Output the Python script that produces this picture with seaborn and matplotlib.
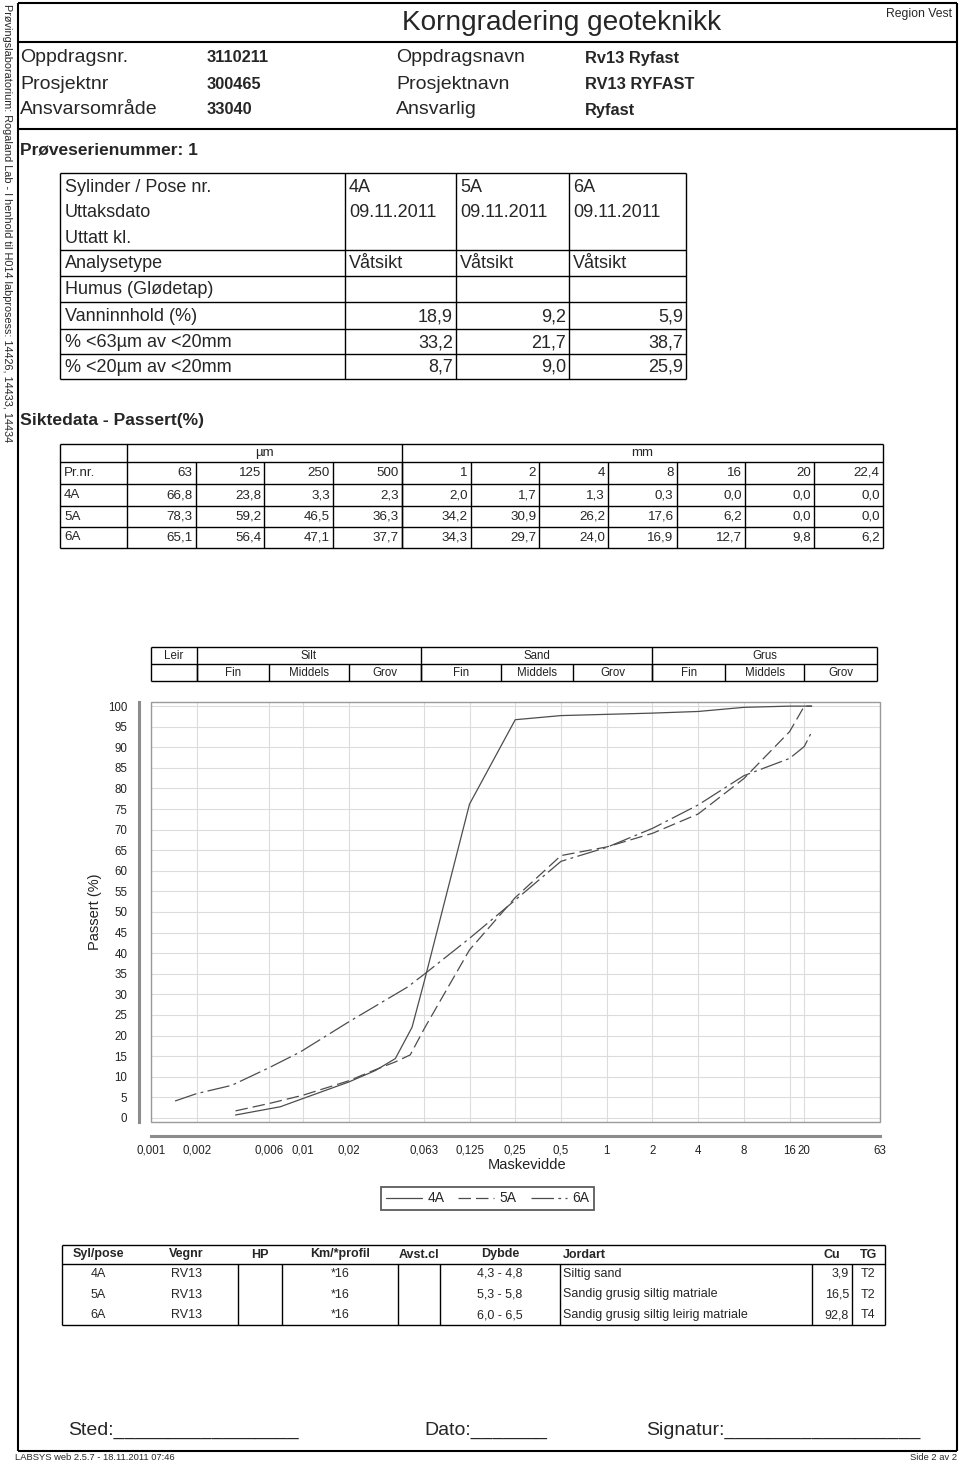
import numpy as np
import pandas as pd
import matplotlib
matplotlib.use("Agg")
import matplotlib.pyplot as plt
import seaborn as sns
from matplotlib.lines import Line2D
from matplotlib.patches import Rectangle
from matplotlib import font_manager

# ---------------- data ----------------
samples = ["4A", "5A", "6A"]
sieve_mm = [0.063, 0.125, 0.25, 0.5, 1, 2, 4, 8, 16, 20, 22.4]
sieve_labels = ["63", "125", "250", "500", "1", "2", "4", "8", "16", "20", "22,4"]
ret_4A = [66.8, 23.8, 3.3, 2.3, 2.0, 1.7, 1.3, 0.3, 0.0, 0.0, 0.0]
ret_5A = [78.3, 59.2, 46.5, 36.3, 34.2, 30.9, 26.2, 17.6, 6.2, 0.0, 0.0]
ret_6A = [65.1, 56.4, 47.1, 37.7, 34.3, 29.7, 24.0, 16.9, 12.7, 9.8, 6.2]
ret_labels_4A = ["66,8", "23,8", "3,3", "2,3", "2,0", "1,7", "1,3", "0,3", "0,0", "0,0", "0,0"]
ret_labels_5A = ["78,3", "59,2", "46,5", "36,3", "34,2", "30,9", "26,2", "17,6", "6,2", "0,0", "0,0"]
ret_labels_6A = ["65,1", "56,4", "47,1", "37,7", "34,3", "29,7", "24,0", "16,9", "12,7", "9,8", "6,2"]

# hydrometer (sedimentation) part of the curves
hyd_d_4A = [0.0036, 0.0071, 0.01, 0.02, 0.03, 0.0406, 0.0523]
hyd_p_4A = [0.7, 2.7, 4.7, 8.7, 11.5, 14.4, 22.0]
hyd_d_5A = [0.0036, 0.006, 0.01, 0.02, 0.03, 0.0406, 0.0509]
hyd_p_5A = [1.7, 3.5, 5.5, 9.0, 11.7, 13.6, 15.3]
hyd_d_6A = [0.00144, 0.002, 0.0034, 0.006, 0.0096, 0.02, 0.0485]
hyd_p_6A = [4.1, 5.9, 7.9, 12.2, 16.0, 23.3, 31.7]

x_ticks = [0.001, 0.002, 0.006, 0.01, 0.02, 0.063, 0.125, 0.25, 0.5, 1, 2, 4, 8, 16, 20, 63]
x_tick_labels = ["0,001", "0,002", "0,006", "0,01", "0,02", "0,063", "0,125", "0,25",
                 "0,5", "1", "2", "4", "8", "16", "20", "63"]
y_ticks = list(range(0, 101, 5))

band_bounds = [0.001, 0.002, 0.006, 0.02, 0.06, 0.2, 0.6, 2, 6, 20, 60]
band_main = [("Leir", 0, 1), ("Silt", 1, 4), ("Sand", 4, 7), ("Grus", 7, 10)]
band_sub = ["Fin", "Middels", "Grov"] * 3

header_rows = [("Oppdragsnr.", "3110211", "Oppdragsnavn", "Rv13 Ryfast"),
               ("Prosjektnr", "300465", "Prosjektnavn", "RV13 RYFAST"),
               ("Ansvarsområde", "33040", "Ansvarlig", "Ryfast")]

top_row_labels = ["Sylinder / Pose nr.", "Uttaksdato", "Uttatt kl.", "Analysetype",
                  "Humus (Glødetap)", "Vanninnhold (%)", "% <63µm av <20mm", "% <20µm av <20mm"]
top_col_4A = ["4A", "09.11.2011", "", "Våtsikt", "", "18,9", "33,2", "8,7"]
top_col_5A = ["5A", "09.11.2011", "", "Våtsikt", "", "9,2", "21,7", "9,0"]
top_col_6A = ["6A", "09.11.2011", "", "Våtsikt", "", "5,9", "38,7", "25,9"]

bottom_headers = ["Syl/pose", "Vegnr", "HP", "Km/*profil", "Avst.cl", "Dybde", "Jordart", "Cu", "TG"]
bottom_4A = ["4A", "RV13", "", "*16", "", "4,3 - 4,8", "Siltig sand", "3,9", "T2"]
bottom_5A = ["5A", "RV13", "", "*16", "", "5,3 - 5,8", "Sandig grusig siltig matriale", "16,5", "T2"]
bottom_6A = ["6A", "RV13", "", "*16", "", "6,0 - 6,5", "Sandig grusig siltig leirig matriale", "92,8", "T4"]

# ---------------- fonts ----------------
sns.set_style("white")
names = {f.name for f in font_manager.fontManager.ttflist}
REG = ["Liberation Sans", "DejaVu Sans"]
if "Liberation Sans Narrow" in names:
    NAR = ["Liberation Sans Narrow", "Liberation Sans", "DejaVu Sans"]
    NS = 1.0
else:
    NAR = REG
    NS = 0.84
plt.rcParams["font.family"] = REG

W, H = 960, 1463
fig = plt.figure(figsize=(W / 100, H / 100), dpi=100)
fig.patch.set_facecolor("white")


def fx(x):
    return x / W


def fy(y):
    return 1 - y / H


def line(x0, y0, x1, y1, lw=1.0, color="black"):
    fig.add_artist(Line2D([fx(x0), fx(x1)], [fy(y0), fy(y1)], lw=lw, color=color,
                          transform=fig.transFigure, solid_capstyle="butt"))


def text(x, y, s, size=10, ha="left", va="center", family=None, weight="normal", **kw):
    fig.text(fx(x), fy(y), s, fontsize=size, ha=ha, va=va,
             family=family if family is not None else REG, weight=weight, **kw)


# ---------------- page frame ----------------
line(18, 3, 957, 3, 1.5)
line(18, 3, 18, 1451, 1.5)
line(957, 3, 957, 1451, 1.5)
line(18, 1451, 957, 1451, 1.5)
line(18, 42, 957, 42, 1.5)
line(18, 129, 957, 129, 1.5)
text(7, 223, "Prøvingslaboratorium: Rogaland Lab - I henhold til H014 labprosess: 14426, 14433, 14434",
     size=7.8, ha="center", rotation=-90)

text(562, 23, "Korngradering geoteknikk", size=24 * NS, ha="center", family=NAR)
text(952, 14, "Region Vest", size=10.5 * NS, ha="right", family=NAR)

for i, (a, b, c, d) in enumerate(header_rows):
    y = [58, 84.5, 110][i]
    text(20, y, a, size=14)
    text(207, y, b, size=14 * NS, family=NAR, weight="bold")
    text(396, y, c, size=14)
    text(585, y, d, size=14 * NS, family=NAR, weight="bold")

text(20, 150, "Prøveserienummer: 1", size=12.5, family=NAR, weight="bold")

# ---------------- top table ----------------
tb = [173, 199, 224.5, 250, 276, 302, 329, 354, 379]
tx = [60, 345, 456, 569, 686]
line(tx[0], tb[0], tx[-1], tb[0])
line(tx[0], tb[-1], tx[-1], tb[-1])
for yy in tb[3:-1]:
    line(tx[0], yy, tx[-1], yy)
for xx in tx:
    line(xx, tb[0], xx, tb[-1])
cols = [top_col_4A, top_col_5A, top_col_6A]
for r, lab in enumerate(top_row_labels):
    yc = (tb[r] + tb[r + 1]) / 2 + 1
    text(tx[0] + 5, yc, lab, size=13)
    for c, col in enumerate(cols):
        v = col[r]
        if r >= 5:
            text(tx[c + 2] - 3, yc, v, size=13, ha="right")
        else:
            text(tx[c + 1] + 4, yc, v, size=13)

# ---------------- sieve table ----------------
text(20, 420, "Siktedata - Passert(%)", size=12.6, family=NAR, weight="bold")
sy = [444, 462, 484, 506, 527, 548]
sx = [60, 127] + [127 + 68.7 * (i + 1) for i in range(11)]
line(sx[0], sy[0], sx[-1], sy[0])
line(sx[0], sy[-1], sx[-1], sy[-1])
for yy in sy[1:-1]:
    line(sx[0], yy, sx[-1], yy)
line(sx[0], sy[0], sx[0], sy[-1])
line(sx[1], sy[0], sx[1], sy[-1])
line(sx[5], sy[0], sx[5], sy[-1])
line(sx[-1], sy[0], sx[-1], sy[-1])
for xx in sx[2:-1]:
    line(xx, sy[1], xx, sy[-1])
tsz = 9.6
text((sx[1] + sx[5]) / 2, (sy[0] + sy[1]) / 2, "µm", size=tsz, ha="center", family=NAR)
text((sx[5] + sx[-1]) / 2, (sy[0] + sy[1]) / 2, "mm", size=tsz, ha="center", family=NAR)
text(sx[0] + 4, (sy[1] + sy[2]) / 2, "Pr.nr.", size=tsz, family=NAR)
for j, lab in enumerate(sieve_labels):
    text(sx[j + 2] - 3, (sy[1] + sy[2]) / 2, lab, size=tsz, ha="right", family=NAR)
for i, (name, labs) in enumerate(zip(samples, [ret_labels_4A, ret_labels_5A, ret_labels_6A])):
    yc = (sy[i + 2] + sy[i + 3]) / 2
    text(sx[0] + 4, yc, name, size=tsz, family=NAR)
    for j, lab in enumerate(labs):
        text(sx[j + 2] - 3, yc, lab, size=tsz, ha="right", family=NAR)

# ---------------- chart ----------------
ax_l, ax_r, ax_t, ax_b = 151, 880, 702, 1122
ax = fig.add_axes([fx(ax_l), fy(ax_b), (ax_r - ax_l) / W, (ax_b - ax_t) / H])

recs = []
for s, hd, hp, ret in [("4A", hyd_d_4A, hyd_p_4A, ret_4A),
                       ("5A", hyd_d_5A, hyd_p_5A, ret_5A),
                       ("6A", hyd_d_6A, hyd_p_6A, ret_6A)]:
    for d, p in zip(hd, hp):
        recs.append({"sample": s, "d": d, "p": p})
    for d, r in zip(sieve_mm, ret):
        recs.append({"sample": s, "d": d, "p": 100 - r})
df = pd.DataFrame(recs)

line_color = "#4d4d4d"
dash_5A = (10, 4)
dash_6A = (18, 3.5, 2.2, 3.5)
dash_map = {"4A": "", "5A": dash_5A, "6A": dash_6A}
sns.lineplot(data=df, x="d", y="p", hue="sample", style="sample",
             palette={s: line_color for s in samples}, dashes=dash_map,
             sort=False, estimator=None, legend=False, linewidth=0.9, ax=ax)
ax.set_xscale("log")
ax.set_xlim(0.001, 63)
ax.set_ylim(-1, 101)
ax.set_xticks(x_ticks)
ax.set_xticklabels(x_tick_labels)
ax.xaxis.set_minor_locator(matplotlib.ticker.NullLocator())
ax.set_yticks(y_ticks)
ax.set_yticklabels([str(v) for v in y_ticks])
ax.grid(True, color="#dcdcdc", lw=0.8)
ax.set_axisbelow(True)
ax.set_xlabel("")
ax.set_ylabel("")
for sp in ["top", "right"]:
    ax.spines[sp].set_visible(False)
ax.spines["left"].set_position(("outward", 9))
ax.spines["bottom"].set_position(("outward", 10))
for sp in ["left", "bottom"]:
    ax.spines[sp].set_color("#8c8c8c")
    ax.spines[sp].set_linewidth(2.2)
ax.tick_params(axis="both", which="major", length=5, width=1, color="#8c8c8c",
               labelsize=8.3, labelcolor="#222222", pad=3, direction="out")
ax.tick_params(axis="x", pad=1.5)
ax.add_patch(Rectangle((0, 0), 1, 1, transform=ax.transAxes, fill=False,
                       edgecolor="#9a9a9a", lw=1.0, clip_on=False, zorder=3))

text(95, 912, "Passert (%)", size=10.5, ha="center", rotation=90, color="#222222")
text(527, 1165, "Maskevidde", size=10.5, ha="center", color="#222222")

handles = [Line2D([], [], color=line_color, lw=0.9, linestyle="-"),
           Line2D([], [], color=line_color, lw=0.9, dashes=dash_5A),
           Line2D([], [], color=line_color, lw=0.9, dashes=dash_6A)]
leg = fig.legend(handles, samples, loc="center", bbox_to_anchor=(fx(487.5), fy(1198.5)),
                 ncol=3, frameon=True, fancybox=False, edgecolor="#333333", fontsize=10,
                 handlelength=2.6, columnspacing=1.0, handletextpad=0.4, borderpad=0.35)
leg.get_frame().set_linewidth(1.3)

# ---------------- grain-size band table (x from the chart's scale) ----------------
def xpix(v):
    return ax.transData.transform((v, 50))[0]


bx = [xpix(v) for v in band_bounds]
by = [647, 664, 681]
line(bx[0], by[0], bx[-1], by[0])
line(bx[0], by[1], bx[-1], by[1])
line(bx[0], by[2], bx[-1], by[2])
line(bx[0], by[0], bx[0], by[2])
line(bx[-1], by[0], bx[-1], by[2])
for name, i0, i1 in band_main:
    if i0 > 0:
        line(bx[i0], by[0], bx[i0], by[2])
    text((bx[i0] + bx[i1]) / 2, (by[0] + by[1]) / 2 + 0.5, name, size=8.3, ha="center", color="#222222")
for k, nm in enumerate(band_sub):
    a, b = bx[k + 1], bx[k + 2]
    line(a, by[1], a, by[2])
    text((a + b) / 2, (by[1] + by[2]) / 2 + 0.5, nm, size=8.3, ha="center", color="#222222")

# ---------------- bottom table ----------------
gy = [1245, 1264, 1284, 1305, 1325]
gx = [62, 135, 238, 282, 398, 440, 560, 812, 852, 885]
line(gx[0], gy[0], gx[-1], gy[0])
line(gx[0], gy[1], gx[-1], gy[1])
line(gx[0], gy[-1], gx[-1], gy[-1])
line(gx[0], gy[0], gx[0], gy[-1])
line(gx[-1], gy[0], gx[-1], gy[-1])
for xx in gx[2:-1]:
    line(xx, gy[1], xx, gy[-1])
bsz = 9.0
for j, h in enumerate(bottom_headers):
    if j == 6:
        text(gx[j] + 3, (gy[0] + gy[1]) / 2, h, size=bsz, family=NAR, weight="bold")
    else:
        text((gx[j] + gx[j + 1]) / 2, (gy[0] + gy[1]) / 2, h, size=bsz, family=NAR,
             weight="bold", ha="center")
for i, row in enumerate([bottom_4A, bottom_5A, bottom_6A]):
    yc = (gy[i + 1] + gy[i + 2]) / 2
    for j, v in enumerate(row):
        if j == 6:
            text(gx[j] + 3, yc, v, size=bsz, family=NAR)
        elif j == 7:
            text(gx[j + 1] - 3, yc, v, size=bsz, family=NAR, ha="right")
        else:
            text((gx[j] + gx[j + 1]) / 2, yc, v, size=bsz, family=NAR, ha="center")

# ---------------- signatures & footer ----------------
text(68, 1430, "Sted:" + "_" * 17, size=14)
text(424, 1430, "Dato:" + "_" * 7, size=14)
text(646, 1430, "Signatur:" + "_" * 18, size=14)
text(15, 1458, "LABSYS web 2.5.7 - 18.11.2011 07:46", size=8 * NS, family=NAR)
text(957, 1458, "Side 2 av 2", size=8 * NS, family=NAR, ha="right")

fig.savefig("out.png", dpi=100)
